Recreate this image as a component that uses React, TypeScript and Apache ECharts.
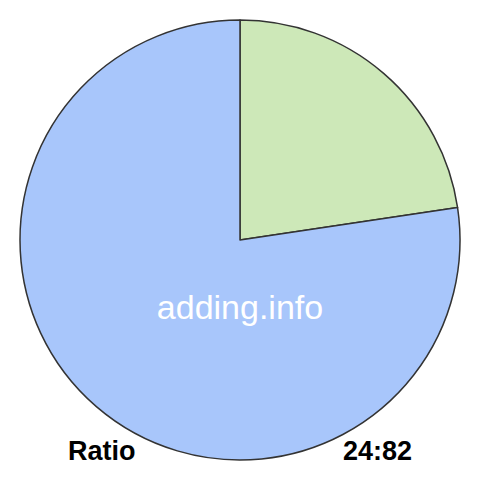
import React, { useEffect, useRef } from "react";
import * as echarts from "echarts";

const names = ["24", "82"];
const values = [24, 82];
const colors = ["#cde8b8", "#a8c6fb"];
const ratioLabel = "Ratio";
const ratioText = "24:82";
const watermark = "adding.info";

const App: React.FC = () => {
  const chartRef = useRef<HTMLDivElement | null>(null);

  useEffect(() => {
    if (!chartRef.current) return;
    const chart = echarts.init(chartRef.current, undefined, { renderer: "svg" });

    const options = {
      animation: false,
      backgroundColor: "#ffffff",
      series: [
        {
          type: "pie",
          center: [240, 240],
          radius: 220,
          startAngle: 90,
          clockwise: true,
          silent: true,
          z: 1,
          label: { show: false },
          labelLine: { show: false },
          itemStyle: { borderColor: "#333333", borderWidth: 1.5 },
          data: values.map((v, i) => ({
            name: names[i],
            value: v,
            itemStyle: { color: colors[i] },
          })),
        },
      ],
      graphic: [
        {
          type: "text",
          x: 240,
          y: 307,
          z: 100,
          style: {
            text: watermark,
            fill: "#ffffff",
            font: "34px 'Liberation Sans', Arial, sans-serif",
            textAlign: "center",
            textVerticalAlign: "middle",
          },
        },
        {
          type: "text",
          x: 68,
          y: 451,
          z: 100,
          style: {
            text: ratioLabel,
            fill: "#000000",
            font: "bold 27px 'Liberation Sans', Arial, sans-serif",
            textAlign: "left",
            textVerticalAlign: "middle",
          },
        },
        {
          type: "text",
          x: 412,
          y: 451,
          z: 100,
          style: {
            text: ratioText,
            fill: "#000000",
            font: "bold 27px 'Liberation Sans', Arial, sans-serif",
            textAlign: "right",
            textVerticalAlign: "middle",
          },
        },
      ],
    };

    chart.setOption(options);

    return () => {
      chart.dispose();
    };
  }, []);

  return (
    <div
      ref={chartRef}
      style={{ position: "fixed", left: 0, top: 0, width: "480px", height: "480px" }}
    />
  );
};

export default App;
